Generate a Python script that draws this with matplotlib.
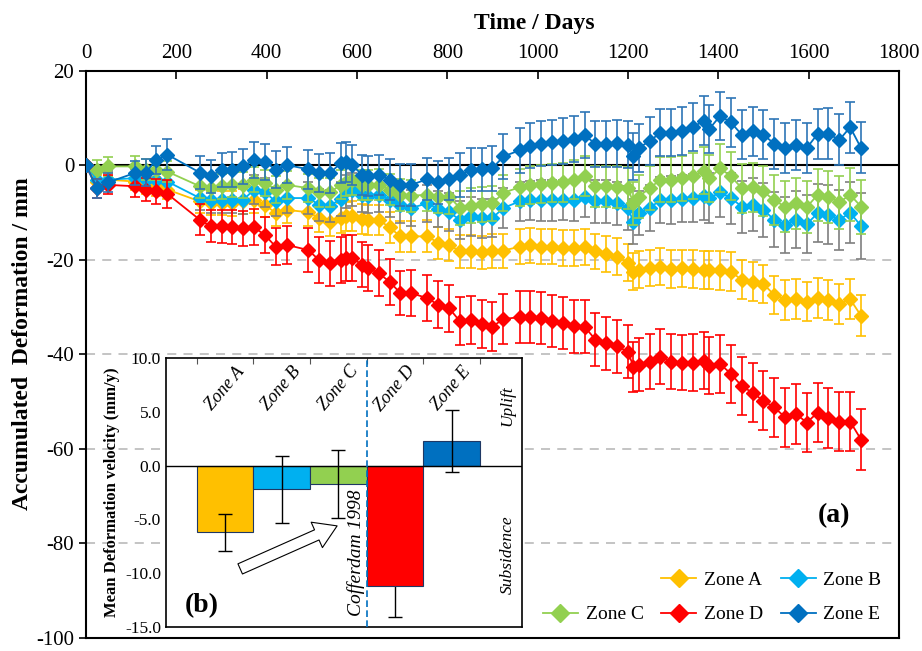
import numpy as np
import matplotlib.pyplot as plt
from matplotlib.lines import Line2D

plt.rcParams['font.family'] = ['Liberation Serif', 'DejaVu Serif']
plt.rcParams['axes.unicode_minus'] = False

# observation days
days = [0, 24, 48, 108, 132, 156, 180, 252, 276, 300,
        324, 348, 372, 396, 420, 444, 492, 516, 540, 564,
        576, 588, 612, 624, 648, 672, 696, 720, 756, 780,
        804, 828, 852, 876, 900, 924, 960, 984, 1008, 1032,
        1056, 1080, 1104, 1128, 1152, 1176, 1200, 1212, 1224, 1248,
        1272, 1296, 1320, 1344, 1368, 1380, 1404, 1428, 1452, 1476,
        1500, 1524, 1548, 1572, 1596, 1620, 1644, 1668, 1692, 1716]

# accumulated deformation (mm)
zone_a = [0, -3.5, -3.0, -3.4, -4.1, -4.4, -5.1, -7.6, -8.0, -8.0,
          -8.0, -7.6, -7.3, -8.3, -10.1, -9.4, -9.9, -11.1, -11.9, -11.1,
          -10.8, -10.7, -11.4, -11.5, -11.5, -13.1, -15.0, -15.0, -15.0, -16.4,
          -16.8, -18.2, -18.2, -18.4, -18.2, -18.0, -17.2, -16.9, -17.2, -17.2,
          -17.5, -17.5, -17.2, -18.2, -18.7, -19.3, -20.6, -22.5, -22.1, -21.7,
          -21.4, -21.9, -21.8, -21.9, -22.1, -22.2, -22.2, -22.5, -24.2, -24.6,
          -25.1, -27.4, -28.4, -28.3, -28.8, -28.1, -28.4, -29.3, -28.3, -31.8]
zone_b = [0, -3.0, -3.0, -2.7, -3.0, -3.0, -3.4, -6.9, -7.3, -7.3,
          -7.3, -7.3, -5.1, -5.7, -7.6, -6.9, -6.9, -8.3, -8.5, -7.1,
          -5.5, -5.1, -6.2, -6.4, -6.2, -7.3, -8.3, -9.0, -8.0, -9.2,
          -9.9, -11.5, -10.8, -11.2, -11.1, -9.0, -7.6, -7.4, -7.4, -7.4,
          -7.3, -7.4, -6.6, -7.6, -7.6, -8.0, -9.0, -11.9, -10.1, -9.0,
          -7.3, -7.3, -7.0, -6.9, -6.4, -6.9, -5.7, -6.9, -8.7, -8.3,
          -9.4, -11.5, -12.6, -11.5, -12.4, -10.1, -10.4, -11.5, -10.0, -12.8]
zone_c = [0, -0.9, -0.2, -0.2, -0.9, -0.9, -1.3, -4.4, -4.8, -4.4,
          -4.1, -4.1, -3.0, -3.7, -5.1, -4.1, -4.8, -5.7, -5.7, -4.1,
          -3.4, -3.0, -4.1, -4.1, -4.1, -5.1, -6.2, -6.4, -6.2, -6.6,
          -6.6, -9.0, -8.5, -8.2, -8.0, -5.8, -4.6, -4.1, -3.9, -3.7,
          -3.6, -3.0, -2.3, -4.4, -4.4, -4.6, -4.8, -8.0, -6.6, -4.8,
          -3.0, -3.0, -2.7, -2.3, -1.1, -2.7, -0.6, -2.3, -4.8, -4.6,
          -5.5, -7.4, -8.7, -8.0, -8.8, -6.2, -6.6, -7.8, -6.2, -8.7]
zone_d = [0, -4.8, -4.1, -4.4, -5.1, -5.5, -6.0, -11.5, -12.9, -12.9,
          -13.1, -13.3, -13.1, -14.7, -17.2, -16.8, -17.9, -20.0, -20.7, -20.0,
          -19.6, -19.6, -21.0, -21.7, -22.8, -24.6, -27.0, -27.0, -28.1, -29.5,
          -30.2, -33.0, -32.7, -33.6, -34.1, -32.5, -32.1, -32.1, -32.3, -33.0,
          -33.4, -34.0, -34.1, -36.9, -37.6, -38.3, -39.4, -42.6, -42.2, -41.5,
          -40.5, -41.5, -41.7, -41.7, -41.3, -42.4, -42.0, -44.1, -46.7, -48.1,
          -49.8, -51.2, -53.3, -52.6, -54.4, -52.3, -53.5, -54.2, -54.2, -58.0]
zone_e = [0, -4.8, -3.6, -1.6, -1.5, 1.2, 2.3, -1.5, -2.3, -0.9,
          -0.9, -0.2, 1.2, 0.8, -0.9, 0.1, -0.8, -1.6, -1.6, 0.5,
          0.8, 0.1, -2.0, -2.2, -2.0, -3.0, -4.1, -4.1, -2.9, -3.6,
          -2.9, -2.0, -0.9, -0.8, -0.6, 1.9, 3.2, 4.2, 4.6, 4.9,
          5.2, 5.6, 6.5, 4.5, 4.6, 4.7, 4.4, 1.9, 3.7, 5.2,
          6.9, 6.9, 7.3, 8.1, 9.5, 7.7, 10.5, 9.1, 6.5, 7.2,
          6.5, 4.6, 3.7, 4.4, 3.7, 6.7, 6.7, 5.4, 8.1, 3.7]

# error bars (mm)
err_a = [0, 1.5, 1.5, 1.8, 1.9, 2.0, 2.1, 2.4, 2.5, 2.5,
         2.6, 2.6, 2.7, 2.7, 2.8, 2.8, 3.0, 3.0, 3.1, 3.1,
         3.1, 3.1, 3.2, 3.2, 3.2, 3.3, 3.3, 3.3, 3.4, 3.4,
         3.4, 3.5, 3.5, 3.5, 3.6, 3.6, 3.7, 3.7, 3.7, 3.7,
         3.8, 3.8, 3.8, 3.8, 3.8, 3.9, 3.9, 3.9, 3.9, 3.9,
         4.0, 4.0, 4.0, 4.0, 4.0, 4.0, 4.1, 4.1, 4.1, 4.1,
         4.1, 4.1, 4.2, 4.2, 4.2, 4.2, 4.2, 4.2, 4.2, 4.3]
err_b = [0, 1.8, 1.8, 2.0, 2.1, 2.2, 2.3, 2.6, 2.7, 2.8,
         2.8, 2.9, 3.0, 3.0, 3.1, 3.1, 3.3, 3.4, 3.4, 3.5,
         3.5, 3.5, 3.6, 3.6, 3.7, 3.7, 3.8, 3.8, 3.9, 3.9,
         4.0, 4.0, 4.1, 4.1, 4.1, 4.2, 4.2, 4.2, 4.3, 4.3,
         4.3, 4.4, 4.4, 4.5, 4.5, 4.6, 4.6, 4.7, 4.7, 4.8,
         4.9, 5.0, 5.0, 5.1, 5.2, 5.2, 5.3, 5.4, 5.5, 5.6,
         5.7, 5.8, 5.9, 6.0, 6.1, 6.2, 6.3, 6.4, 6.5, 6.9]
err_c = [0, 2.0, 2.0, 2.1, 2.2, 2.2, 2.3, 2.5, 2.5, 2.6,
         2.6, 2.7, 2.7, 2.8, 2.8, 2.9, 3.0, 3.0, 3.1, 3.1,
         3.1, 3.2, 3.2, 3.2, 3.3, 3.3, 3.4, 3.4, 3.5, 3.5,
         3.6, 3.6, 3.7, 3.7, 3.7, 3.8, 3.9, 4.0, 4.0, 4.1,
         4.1, 4.2, 4.2, 4.3, 4.3, 4.4, 4.4, 4.5, 4.5, 4.6,
         4.7, 4.7, 4.8, 4.9, 5.0, 5.0, 5.1, 5.1, 5.2, 5.2,
         5.3, 5.3, 5.4, 5.4, 5.5, 5.5, 5.5, 5.6, 5.6, 5.7]
err_d = [0, 2.0, 2.0, 2.3, 2.5, 2.7, 2.9, 3.3, 3.4, 3.5,
         3.6, 3.7, 3.8, 3.8, 3.9, 4.0, 4.6, 4.8, 4.8, 4.8,
         4.8, 4.8, 4.8, 4.8, 4.9, 4.9, 4.7, 4.8, 4.9, 5.0,
         5.0, 5.1, 5.1, 5.1, 5.2, 5.3, 5.5, 5.5, 5.5, 5.5,
         5.5, 5.6, 5.6, 5.6, 5.6, 5.6, 5.6, 5.3, 5.6, 5.8,
         5.8, 5.8, 5.9, 6.0, 6.0, 6.0, 6.1, 6.1, 6.2, 6.2,
         6.2, 6.2, 6.3, 6.3, 6.3, 6.3, 6.3, 6.3, 6.3, 6.4]
err_e = [0, 2.0, 2.0, 2.6, 2.8, 3.0, 3.3, 3.4, 3.5, 3.6,
         3.7, 3.7, 3.8, 3.8, 3.9, 3.9, 4.1, 4.1, 4.2, 4.2,
         4.2, 4.2, 4.3, 4.3, 4.3, 4.4, 4.4, 4.4, 4.5, 4.5,
         4.5, 4.6, 4.6, 4.6, 4.7, 4.7, 4.8, 4.8, 4.8, 4.8,
         4.9, 4.9, 4.9, 4.9, 4.9, 5.0, 5.0, 5.0, 5.0, 5.0,
         5.0, 5.0, 5.1, 5.1, 5.1, 5.1, 5.1, 5.2, 5.2, 5.2,
         5.2, 5.3, 5.3, 5.3, 5.3, 5.3, 5.4, 5.4, 5.4, 5.4]

zones = ['Zone A', 'Zone B', 'Zone C', 'Zone D', 'Zone E']
colors = ['#FFC000', '#00B0F0', '#92D050', '#FF0000', '#0070C0']
ecolors = ['#FFC000', '#7F7F7F', '#92D050', '#FF0000', '#2E75B6']

# inset: mean deformation velocity (mm/y)
velocity = [-6.2, -2.2, -1.7, -11.2, 2.3]
vel_err = [1.7, 3.1, 3.2, 2.9, 2.9]

fig = plt.figure(figsize=(9.22, 6.51), dpi=100)
ax = fig.add_axes([0.0933, 0.020, 0.8817, 0.871])

series = [zone_a, zone_b, zone_c, zone_d, zone_e]
errs = [err_a, err_b, err_c, err_d, err_e]
for i in range(5):
    ax.errorbar(days, series[i], yerr=errs[i], color=colors[i], ecolor=ecolors[i],
                marker='D', ms=7.5, lw=1.3, elinewidth=1.2, capsize=3.5, capthick=1.2,
                zorder=3 + i)

for y in [-20, -40, -60, -80]:
    ax.axhline(y, ls=(0, (5, 4)), color='#BFBFBF', lw=1.3, zorder=1)
ax.axhline(0, color='black', lw=1.5, zorder=2)

ax.set_xlim(0, 1800)
ax.set_ylim(-100, 20)
ax.set_xticks(np.arange(0, 1801, 200))
ax.set_yticks(np.arange(-100, 21, 20))
ax.xaxis.tick_top()
ax.tick_params(axis='x', direction='in', length=6, width=1.2, labelsize=15, pad=6)
ax.tick_params(axis='y', direction='out', length=5, width=1.2, labelsize=15)
for s in ax.spines.values():
    s.set_linewidth(1.5)

ax.text(0.551, 1.083, 'Time / Days', transform=ax.transAxes, ha='center', va='center',
        fontsize=17, fontweight='bold')
ax.text(-0.078, 0.52, 'Accumulated  Deformation / mm', transform=ax.transAxes,
        ha='center', va='center', rotation=90, fontsize=17, fontweight='bold')
ax.text(1656, -74, '(a)', fontsize=20, fontweight='bold', ha='center', va='center')

handles = [Line2D([], [], color=c, marker='D', ms=9, lw=1.3) for c in colors]
blank = Line2D([], [], alpha=0)
ax.legend([blank, handles[2], handles[0], handles[3], handles[1], handles[4]],
          ['', 'Zone C', 'Zone A', 'Zone D', 'Zone B', 'Zone E'],
          ncol=3, loc='lower right', bbox_to_anchor=(1.0, -0.005), frameon=False,
          fontsize=14, handlelength=1.8, columnspacing=0.9, handletextpad=0.4,
          labelspacing=0.85)

# inset (b)
axin = fig.add_axes([0.180, 0.0369, 0.386, 0.413], zorder=10)
axin.set_facecolor('white')
pos = np.arange(1, 6)
axin.bar(pos, velocity, width=1.0, color=colors, edgecolor='#1F3864', lw=0.8, zorder=2)
for i in range(5):
    axin.errorbar(pos[i], velocity[i], yerr=vel_err[i], color='black', capsize=5,
                  lw=1, capthick=1, zorder=1 if i == 3 else 3)
axin.axhline(0, color='black', lw=1, zorder=2.5)
axin.axvline(3.5, color='#0070C0', ls=(0, (4, 2)), lw=1.2, zorder=4)
axin.set_xlim(-0.04, 6.24)
axin.set_ylim(-15, 10)
axin.set_yticks([10, 5, 0, -5, -10, -15])
axin.set_yticklabels(['%.1f' % v for v in [10, 5, 0, -5, -10, -15]])
axin.set_xticks([0.5, 1.5, 2.5, 3.5, 4.5, 5.5])
axin.xaxis.tick_top()
axin.tick_params(axis='x', direction='in', length=4, color='#555555', labeltop=False)
axin.tick_params(axis='y', length=0, labelsize=12.5)
axin.set_ylabel('Mean Deformation velocity (mm/y)', fontsize=12, fontweight='bold')
for s in axin.spines.values():
    s.set_linewidth(1.2)

for i, z in enumerate(zones):
    axin.text(pos[i], 7.2, z, rotation=50, style='italic', ha='center', va='center', fontsize=13)
axin.text(5.99, 5.6, 'Uplift', rotation=90, style='italic', ha='center', va='center', fontsize=12.5)
axin.text(5.99, -8.3, 'Subsidence', rotation=90, style='italic', ha='center', va='center', fontsize=12.5)
axin.text(3.31, -8.1, 'Cofferdam 1998', rotation=90, style='italic', ha='center', va='center', fontsize=14)
axin.text(0.6, -13.0, '(b)', fontsize=20, fontweight='bold', ha='center', va='center')
axin.annotate('', xy=(2.98, -5.6), xytext=(1.27, -9.6),
              arrowprops=dict(arrowstyle='simple,head_length=0.8,head_width=1.0,tail_width=0.4',
                              fc='white', ec='black', lw=0.8, mutation_scale=20,
                              shrinkA=0, shrinkB=0))

fig.savefig('out.png', dpi=100)
